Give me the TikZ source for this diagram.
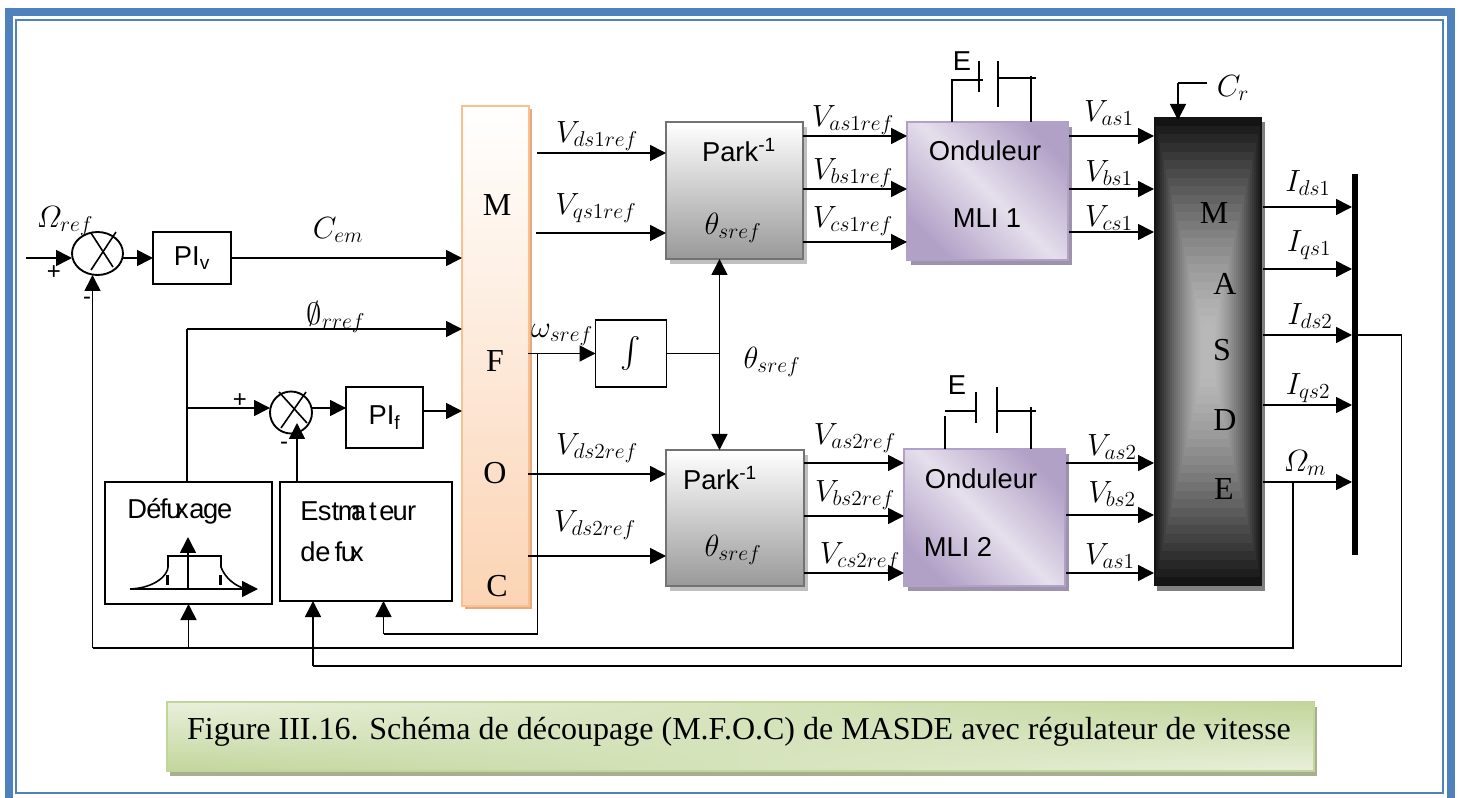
\RequirePackage{fix-cm}
\documentclass[tikz,border=0pt]{standalone}
\usepackage{amsmath,amssymb}
\usepackage{fontspec}
\setmainfont{Liberation Serif}
\setsansfont{Liberation Sans}
\usepackage{tikz}
\usetikzlibrary{
  arrows.meta,
  positioning,
  shapes.geometric,
  calc,
  shadows,
  fadings
}
\definecolor{frameblue}{HTML}{4F81BD}
\definecolor{mfocline}{HTML}{FAC090}
\definecolor{mfocfill}{HTML}{FBD4B4}
\definecolor{mfocshadow}{HTML}{E3AC80}
\definecolor{parkline}{HTML}{737373}
\definecolor{parkdark}{HTML}{999999}
\definecolor{parkshadow}{HTML}{BFBFBF}
\definecolor{ondline}{HTML}{B2A1C7}
\definecolor{ondlight}{HTML}{E5DFEC}
\definecolor{ondshadow}{HTML}{9E93AC}
\definecolor{capline}{HTML}{C2D69B}
\definecolor{caplight}{HTML}{EAF1DD}
\definecolor{capshadow}{HTML}{A7AF90}
\tikzset{
  px size/.style 2 args={minimum width=#1*0.75pt, minimum height=#2*0.75pt,
    inner sep=0pt, outer sep=0pt},
  blockbox/.style={draw, line width=1.4pt},
  sumnode/.style={draw, ellipse, line width=1.4pt},
  mfocbox/.style={draw=mfocline, line width=1.5pt, top color=white, bottom color=mfocfill,
    general shadow={fill=mfocshadow, shadow xshift=2pt, shadow yshift=-2.5pt}},
  parkbox/.style={draw=parkline, line width=2.2pt, top color=white, bottom color=parkdark,
    general shadow={fill=parkshadow, shadow xshift=3pt, shadow yshift=-3.5pt}},
  ondbox/.style={draw=ondline, line width=1.5pt,
    top color=ondline, bottom color=ondline, middle color=ondlight, shading angle=-45,
    general shadow={fill=ondshadow, shadow xshift=3pt, shadow yshift=-3.5pt}},
  sanstext/.style={font=\sffamily\fontsize{20.5}{25}\selectfont, inner sep=0pt},
  letter/.style={font=\rmfamily\fontsize{24}{28}\selectfont, inner sep=0pt},
  lab/.style={font=\fontsize{23}{26}\selectfont, inner sep=0pt},
  sgn/.style={font=\sffamily\fontsize{18}{20}\selectfont, inner sep=0pt},
  wire/.style={line width=1.2pt},
  arr/.style={-{Triangle[length=12pt,width=12pt]}, line width=1.2pt},
  darr/.style={{Triangle[length=12pt,width=12pt]}-{Triangle[length=12pt,width=12pt]}, line width=1.2pt},
}
\begin{document}
\begin{tikzpicture}[x=0.75pt, y=-0.75pt]
  \useasboundingbox (0,0) rectangle (1461,798);

  % Frame
  \draw[frameblue, line width=6pt] (8.5,12) rectangle (1451,802);
  \draw[frameblue, line width=1.5pt] (16,20) rectangle (1443,793);

  % Speed loop
  \node[sumnode, px size={51}{43}] (sum1) at (97.5,253.5) {};
  \node[blockbox, px size={78}{52}, sanstext] (piv) at (192,258) {PI\textsubscript{v}};
  \node[lab] (lomega) at (65,221) {$\varOmega_{ref}$};
  \node[lab] (lcem) at (338,230) {$C_{em}$};
  \node[sgn] (plus1) at (54,273) {+};
  \node[sgn] (minus1) at (87,301) {-};

  % Flux loop
  \node[sumnode, px size={42}{42}] (sum2) at (291,412.5) {};
  \node[blockbox, px size={77}{61}, sanstext] (pif) at (384.5,417.5) {PI\textsubscript{f}};
  \node[blockbox, px size={167}{122}] (deflux) at (188.5,543) {};
  \node[blockbox, px size={172}{119}, right=6pt of deflux.north east, anchor=north west] (estim) {};
  \node[sanstext, anchor=west] (tdeflux) at (127,511)
    {D\kern-.5pt é\kern-1pt f\kern-1pt u\kern-5pt x\kern .5pt a\kern-1pt g\kern-1pt e};
  \node[sanstext, anchor=west] (testim) at (300,511)
    {\spaceskip=2pt E\kern-.5pt st\kern-1pt m\kern-7pt a t e\kern-1.5pt u\kern-.5pt r};
  \node[sanstext, anchor=west] (tfux) at (300,552) {de\kern 3pt f\kern-1pt u\kern-4.5pt x};
  \node[lab] (lphi) at (336,317) {$\emptyset_{rref}$};
  \node[sgn] (plus2) at (240,401) {+};
  \node[sgn] (minus2) at (284,446) {-};

  % MFOC and integrator
  \node[mfocbox, px size={67}{500}] (mfoc) at (495.5,356) {};
  \node[letter] (mm) at (497,205) {M};
  \node[letter] (mf) at (495,361) {F};
  \node[letter] (mo) at (495,473) {O};
  \node[letter] (mc) at (497,586) {C};
  \node[blockbox, px size={71}{67}, lab] (integ) at (631,353.5) {$\int$};
  \node[lab] (lwsref) at (562,335) {$\omega_{sref}$};
  \node[lab] (ltheta) at (772,362) {$\theta_{sref}$};

  % Park blocks
  \node[parkbox, px size={137}{137}] (park1) at (734.5,190.5) {};
  \node[parkbox, px size={138}{136}] (park2) at (735,518) {};
  \node[sanstext] (tpark1) at (739,150) {Park\textsuperscript{-1}};
  \node[lab] (tth1) at (733,228) {$\theta_{sref}$};
  \node[sanstext] (tpark2) at (720,478) {Park\textsuperscript{-1}};
  \node[lab] (tth2) at (733,550) {$\theta_{sref}$};
  \node[lab] (lds1) at (597,136) {$V_{ds1ref}$};
  \node[lab] (lqs1) at (596,208) {$V_{qs1ref}$};
  \node[lab] (lds2) at (597,448) {$V_{ds2ref}$};
  \node[lab] (lds3) at (595,525) {$V_{ds2ref}$};
  \node[lab] (las1r) at (853,120) {$V_{as1ref}$};
  \node[lab] (lbs1r) at (853,173) {$V_{bs1ref}$};
  \node[lab] (lcs1r) at (853,221) {$V_{cs1ref}$};
  \node[lab] (las2r) at (855,438) {$V_{as2ref}$};
  \node[lab] (lbs2r) at (855,495) {$V_{bs2ref}$};
  \node[lab] (lcs2r) at (860,557) {$V_{cs2ref}$};

  % Inverters
  \node[ondbox, px size={161}{138}] (ond1) at (987.5,191) {};
  \node[ondbox, px size={161}{137}] (ond2) at (984.5,517.5) {};
  \node[sanstext] (tond1) at (985,151) {Onduleur};
  \node[sanstext] (tmli1) at (987,218) {MLI 1};
  \node[sanstext] (tond2) at (981,479) {Onduleur};
  \node[sanstext] (tmli2) at (958,547) {MLI 2};
  \node[sanstext] (te1) at (962,61) {E};
  \node[sanstext] (te2) at (957,385) {E};
  \node[lab] (las1) at (1109,113) {$V_{as1}$};
  \node[lab] (lbs1) at (1109,173) {$V_{bs1}$};
  \node[lab] (lcs1) at (1109,218) {$V_{cs1}$};
  \node[lab] (las2) at (1112,447) {$V_{as2}$};
  \node[lab] (lbs2) at (1112,494) {$V_{bs2}$};
  \node[lab] (las3) at (1110,556) {$V_{as1}$};

  % MASDE
  \node[px size={108}{469}, general shadow={fill=gray, shadow xshift=2pt, shadow yshift=-4pt}] (masde) at (1208,351.5) {};
  \foreach \i in {0,...,24}{
    \pgfmathsetmacro{\inx}{54*\i/27}
    \pgfmathsetmacro{\iny}{234*\i/27}
    \pgfmathsetmacro{\shadeval}{8+64*(1-(1-\i/24)^1.4)}
    \fill[white!\shadeval!black] (1154+\inx,117+\iny) rectangle (1262-\inx,586-\iny);
  }
  \node[letter] (ma) at (1214,213) {M};
  \node[letter] (mb) at (1225,284) {A};
  \node[letter] (md) at (1222,350) {S};
  \node[letter] (me) at (1225,420) {D};
  \node[letter] (mg) at (1224,489) {E};
  \node[lab] (lcr) at (1233,88) {$C_r$};
  \node[fill=black, px size={6}{381}] (bus) at (1355,365) {};
  \node[lab] (lids1) at (1308,183) {$I_{ds1}$};
  \node[lab] (liqs1) at (1309,245) {$I_{qs1}$};
  \node[lab] (lids2) at (1310,316) {$I_{ds2}$};
  \node[lab] (liqs2) at (1308,388) {$I_{qs2}$};
  \node[lab] (lomm) at (1305,463) {$\varOmega_m$};

  % Speed loop connectors
  \coordinate (ref) at (26,258);
  \draw[arr] (ref) -- (ref -| sum1.west);
  \draw[arr] (piv.west -| sum1.east) -- (piv.west);
  \draw[arr] (piv.east) -- (piv.east -| mfoc.west);
  \draw[wire] ($(sum1)+(-6.5,-20.5)$) -- ($(sum1)+(15.5,13.5)$);
  \draw[wire] ($(sum1)+(18.5,-21.5)$) -- ($(sum1)+(-6.5,16.5)$);

  % Flux loop connectors
  \coordinate (phi) at (187,329);
  \coordinate (fl) at (187,408);
  \draw[wire] (phi |- deflux.north) -- (phi);
  \draw[arr] (phi) -- (phi -| mfoc.west);
  \draw[arr] (fl) -- (fl -| sum2.west);
  \draw[arr] (fl -| sum2.east) -- (fl -| pif.west);
  \coordinate (pifo) at (423,411);
  \draw[arr] (pifo) -- (pifo -| mfoc.west);
  \coordinate (est) at (297,482);
  \coordinate (estt) at (297,423);
  \draw[arr] (est) -- (estt);
  \draw[wire] ($(sum2)+(-12,-20.5)$) -- ($(sum2)+(16,10.5)$);
  \draw[wire] ($(sum2)+(15,-20.5)$) -- ($(sum2)+(-10,15.5)$);

  % Defluxing curve
  \coordinate (dxa) at (130,589);
  \coordinate (dxb) at (188,589);
  \coordinate (dxc) at (168,556);
  \coordinate (dxd) at (221,556);
  \coordinate (dxe) at (258,589);
  \coordinate (dxf) at (188,537);
  \draw[arr] (dxa) -- (dxe);
  \draw[arr] (dxb) -- (dxf);
  \draw[wire] (dxa) .. controls (155,588) and (168,575) .. (168,567) -- (dxc) -- (dxd)
    -- (221,567) .. controls (225,578) and (235,586) .. (246,589);
  \draw[line width=2pt] (167.5,575) -- (167.5,585);
  \draw[line width=2pt] (220.5,575) -- (220.5,585);

  % Omega and theta
  \coordinate (wsa) at (528,353.5);
  \coordinate (wsj) at (537.5,353.5);
  \coordinate (wsb) at (537.5,634);
  \coordinate (eb) at (383.5,634);
  \coordinate (thj) at (719.5,353.5);
  \draw[arr] (wsa) -- (integ.west);
  \draw[wire] (wsj) -- (wsb) -- (eb);
  \draw[arr] (eb) -- (eb |- estim.south);
  \draw[wire] (integ.east) -- (thj);
  \draw[darr] (thj |- park1.south) -- (thj |- park2.north);

  % Park inputs
  \coordinate (ds1) at (537,153);
  \coordinate (qs1) at (536,233);
  \coordinate (ds2) at (528,474);
  \coordinate (ds3) at (528,556);
  \draw[arr] (ds1) -- (ds1 -| park1.west);
  \draw[arr] (qs1) -- (qs1 -| park1.west);
  \draw[arr] (ds2) -- (ds2 -| park2.west);
  \draw[arr] (ds3) -- (ds3 -| park2.west);

  % Park to inverters
  \coordinate (p1a) at (803,136);
  \coordinate (p1b) at (803,189);
  \coordinate (p1c) at (803,242);
  \coordinate (p2a) at (804,463);
  \coordinate (p2b) at (804,516);
  \coordinate (p2c) at (804,573);
  \draw[arr] (p1a) -- (p1a -| ond1.west);
  \draw[arr] (p1b) -- (p1b -| ond1.west);
  \draw[arr] (p1c) -- (p1c -| ond1.west);
  \draw[arr] (p2a) -- (p2a -| ond2.west);
  \draw[arr] (p2b) -- (p2b -| ond2.west);
  \draw[arr] (p2c) -- (p2c -| ond2.west);

  % Inverters to machine
  \coordinate (o1a) at (1069,136);
  \coordinate (o1b) at (1069,189);
  \coordinate (o1c) at (1069,232);
  \coordinate (o2a) at (1066,463);
  \coordinate (o2b) at (1066,515);
  \coordinate (o2c) at (1066,573);
  \draw[arr] (o1a) -- (o1a -| masde.west);
  \draw[arr] (o1b) -- (o1b -| masde.west);
  \draw[arr] (o1c) -- (o1c -| masde.west);
  \draw[arr] (o2a) -- (o2a -| masde.west);
  \draw[arr] (o2b) -- (o2b -| masde.west);
  \draw[arr] (o2c) -- (o2c -| masde.west);

  % DC sources
  \draw[wire] (952,122) -- (952,80) -- (983,80);
  \draw[wire] (979,61) -- (979,92);
  \draw[wire] (998,61) -- (998,107);
  \draw[wire] (998,78) -- (1036,78);
  \draw[wire] (1031,76) -- (1031,122);
  \draw[wire] (945,449) -- (945,416);
  \draw[wire] (945,411) -- (976,411);
  \draw[wire] (976,392) -- (976,423);
  \draw[wire] (997,387) -- (997,433);
  \draw[wire] (997,411) -- (1036,411);
  \draw[wire] (1031,407) -- (1031,449);

  % Load torque
  \coordinate (crb) at (1207,83);
  \coordinate (cra) at (1178,83);
  \coordinate (crc) at (1178,120);
  \draw[wire] (crb) -- (cra);
  \draw[arr] (cra) -- (crc);

  % Machine outputs
  \coordinate (ia) at (1263,207);
  \coordinate (ib) at (1263,269);
  \coordinate (ic) at (1263,335);
  \coordinate (id) at (1263,405);
  \coordinate (ie) at (1263,482);
  \draw[arr] (ia) -- (ia -| bus.west);
  \draw[arr] (ib) -- (ib -| bus.west);
  \draw[arr] (ic) -- (ic -| bus.west);
  \draw[arr] (id) -- (id -| bus.west);
  \draw[arr] (ie) -- (ie -| bus.west);

  % Feedback
  \coordinate (fba) at (1293,482);
  \coordinate (fbb) at (1293,648);
  \coordinate (fbc) at (92.5,648);
  \coordinate (fbd) at (1401.5,335);
  \coordinate (fbe) at (1401.5,666);
  \coordinate (fbf) at (313,666);
  \draw[wire] (fba) -- (fbb) -- (fbc);
  \draw[arr] (fbc) -- (fbc |- sum1.south);
  \draw[arr] (deflux.south |- fbb) -- (deflux.south);
  \draw[wire] (bus.east |- fbd) -- (fbd) -- (fbe) -- (fbf);
  \draw[arr] (fbf) -- (fbf |- estim.south);

  % Caption
  \node[top color=caplight, bottom color=capline, px size={1147}{69},
    general shadow={fill=capshadow, shadow xshift=2.5pt, shadow yshift=-3.5pt}] (cap) at (740.5,736.5) {};
  \shade[top color=capline, bottom color=caplight, path fading=west]
    (cap.south west) rectangle (cap.north east);
  \draw[capline, line width=1.5pt] (cap.south west) rectangle (cap.north east);
  \node[font=\rmfamily\fontsize{24}{27}\selectfont, inner sep=0pt] (captxt) at (739,732)
    {Figure III.16. Schéma de découpage (M.F.O.C) de MASDE avec régulateur de vitesse};
\end{tikzpicture}
\end{document}
